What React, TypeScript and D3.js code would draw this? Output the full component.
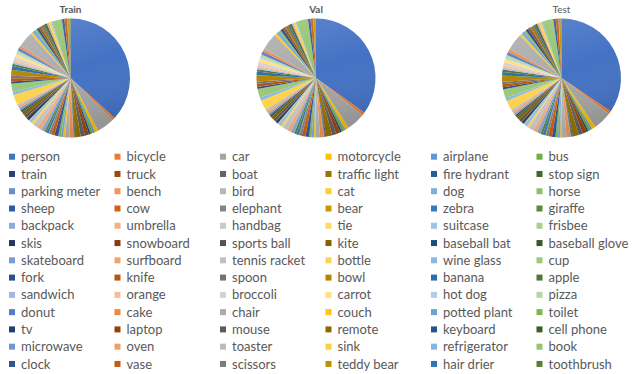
import React from "react";
import * as d3 from "d3";

// Object categories, in legend / slice order
const categories: string[] = [
  "person", "bicycle", "car", "motorcycle", "airplane", "bus",
  "train", "truck", "boat", "traffic light", "fire hydrant", "stop sign",
  "parking meter", "bench", "bird", "cat", "dog", "horse",
  "sheep", "cow", "elephant", "bear", "zebra", "giraffe",
  "backpack", "umbrella", "handbag", "tie", "suitcase", "frisbee",
  "skis", "snowboard", "sports ball", "kite", "baseball bat", "baseball glove",
  "skateboard", "surfboard", "tennis racket", "bottle", "wine glass", "cup",
  "fork", "knife", "spoon", "bowl", "banana", "apple",
  "sandwich", "orange", "broccoli", "carrot", "hot dog", "pizza",
  "donut", "cake", "chair", "couch", "potted plant", "toilet",
  "tv", "laptop", "mouse", "remote", "keyboard", "cell phone",
  "microwave", "oven", "toaster", "sink", "refrigerator", "book",
  "clock", "vase", "scissors", "teddy bear", "hair drier", "toothbrush",
];

// Instance counts per category
const trainCounts: number[] = [
  335000, 7113, 43867, 8725, 5135, 6069,
  4571, 9973, 10759, 12884, 1865, 1983,
  1285, 9838, 10806, 4768, 5508, 6587,
  9509, 8147, 5513, 1294, 5303, 5131,
  8720, 11431, 12354, 6496, 6192, 2682,
  6646, 2685, 6347, 9076, 3276, 3747,
  5543, 6126, 4812, 24342, 7913, 20650,
  5479, 7770, 6165, 14358, 9458, 5851,
  4373, 6399, 7308, 7852, 2918, 5821,
  7179, 6353, 38491, 5779, 8652, 4157,
  5805, 4970, 2262, 5703, 2855, 6434,
  1673, 3334, 225, 5610, 2637, 24715,
  6334, 6613, 1481, 4793, 198, 1954,
];

const valCounts: number[] = [
  13360, 316, 1932, 371, 143, 285,
  190, 415, 430, 637, 101, 75,
  60, 413, 440, 202, 218, 273,
  361, 380, 255, 71, 268, 232,
  371, 413, 540, 254, 303, 115,
  241, 69, 263, 336, 146, 148,
  179, 269, 225, 1025, 343, 899,
  215, 326, 253, 626, 379, 239,
  177, 287, 316, 371, 127, 285,
  338, 316, 1791, 261, 343, 179,
  288, 231, 106, 283, 153, 262,
  55, 143, 9, 225, 126, 1161,
  267, 277, 36, 191, 11, 57,
];

const testCounts: number[] = [
  13150, 330, 1905, 390, 150, 295,
  185, 420, 445, 620, 95, 80,
  65, 405, 455, 210, 225, 265,
  350, 370, 262, 75, 260, 240,
  380, 420, 530, 248, 310, 120,
  250, 72, 270, 330, 150, 140,
  185, 275, 230, 1010, 335, 910,
  220, 318, 245, 640, 370, 245,
  180, 280, 310, 360, 130, 290,
  330, 322, 1770, 255, 350, 185,
  282, 236, 110, 275, 158, 268,
  58, 150, 12, 230, 130, 1140,
  260, 285, 40, 195, 14, 60,
];

const pieTitles: string[] = ["Train", "Val", "Test"];
const pieTitleWeights: number[] = [700, 700, 400];

// Office theme accents and the luminance tints/shades used for later series
const accents: string[] = ["#4472C4", "#ED7D31", "#A5A5A5", "#FFC000", "#5B9BD5", "#70AD47"];
const lumSteps: [number, number][] = [
  [1, 0], [0.6, 0], [0.8, 0.2], [0.8, 0], [0.6, 0.4], [0.5, 0], [0.7, 0.3],
  [0.7, 0], [0.5, 0.5], [0.92, 0.08], [0.55, 0], [0.75, 0.25], [0.75, 0],
];

function seriesColor(i: number): string {
  const c = d3.hsl(accents[i % accents.length]);
  const [mod, off] = lumSteps[Math.floor(i / accents.length) % lumSteps.length];
  c.l = Math.min(1, c.l * mod + off);
  return c.formatHex();
}

const W = 634;
const H = 374;
const FONT = "Lato, 'Open Sans', sans-serif";
const TEXT = "#595959";

const pieCenters = d3.scalePoint<number>().domain([0, 1, 2]).range([70.5, 561.5]);
const pieCy = 78;
const pieR = 59.5;

const legendCols = 6;
const legendX = d3.scaleLinear().domain([0, 1]).range([9, 114.5]);
const legendY = d3.scaleLinear().domain([0, 1]).range([156.7, 173.97]);

export default function App() {
  const datasets = [trainCounts, valCounts, testCounts];
  const pie = d3.pie<number>().sort(null).value((d) => d).startAngle(0).endAngle(2 * Math.PI);
  const arc = d3.arc<d3.PieArcDatum<number>>().innerRadius(0).outerRadius(pieR);

  return (
    <svg
      width={W}
      height={H}
      viewBox={`0 0 ${W} ${H}`}
      style={{ position: "absolute", left: 0, top: 0, background: "#fff" }}
    >
      <defs>
        <linearGradient id="pieShade" x1="0" y1="0" x2="0.35" y2="1">
          <stop offset="0" stopColor="#fff" stopOpacity={0.16} />
          <stop offset="0.55" stopColor="#fff" stopOpacity={0} />
          <stop offset="1" stopColor="#000" stopOpacity={0.1} />
        </linearGradient>
      </defs>

      {datasets.map((counts, k) => {
        const cx = pieCenters(k) as number;
        return (
          <g key={pieTitles[k]}>
            <text
              x={cx}
              y={13}
              textAnchor="middle"
              fontFamily={FONT}
              fontSize={10}
              fontWeight={pieTitleWeights[k]}
              fill={TEXT}
            >
              {pieTitles[k]}
            </text>
            <g transform={`translate(${cx},${pieCy})`}>
              {pie(counts).map((a, i) => (
                <path key={i} d={arc(a) || ""} fill={seriesColor(i)} />
              ))}
              <circle r={pieR} fill="url(#pieShade)" />
            </g>
          </g>
        );
      })}

      <g fontFamily={FONT} fontSize={13} fill={TEXT}>
        {categories.map((name, i) => {
          const col = i % legendCols;
          const row = Math.floor(i / legendCols);
          const x = legendX(col);
          const y = legendY(row);
          return (
            <g key={name} transform={`translate(${x},${y})`}>
              <rect x={0} y={-3} width={6} height={6} fill={seriesColor(i)} />
              <text x={12} y={0} dy="0.35em">
                {name}
              </text>
            </g>
          );
        })}
      </g>
    </svg>
  );
}
